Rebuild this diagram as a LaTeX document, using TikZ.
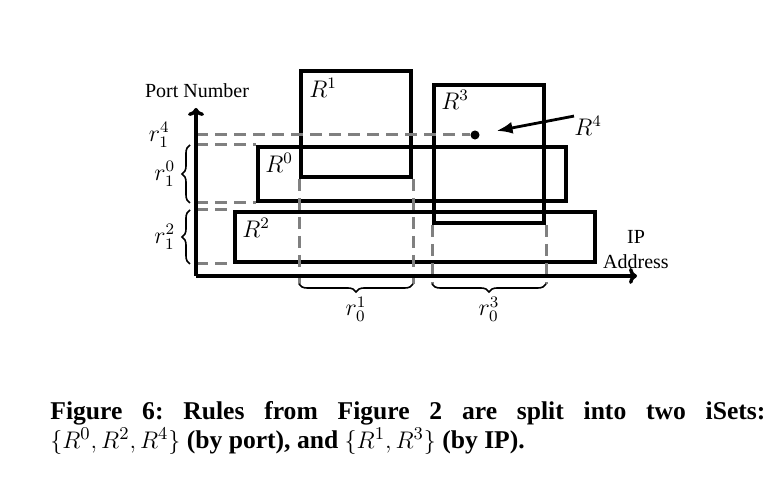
\documentclass[tikz,border=0pt]{standalone}
\usepackage{fontspec}
\setmainfont{Liberation Serif}
\usetikzlibrary{positioning,arrows.meta,decorations.pathreplacing}

\tikzset{
	rulebox/.style = {draw, line width=2pt, inner sep=0pt, anchor=south west},
	guide/.style = {draw=gray, line width=1.5pt, dash pattern=on 6pt off 3.5pt},
	axis/.style = {line width=1.7pt, -{To[length=4pt,width=8pt]}},
	pointer/.style = {line width=1.4pt, -{Latex[length=8pt,width=6pt]}},
	lbl/.style = {inner sep=0pt, font=\fontsize{11.5}{13}\selectfont},
	txt/.style = {inner sep=0pt, font=\fontsize{10}{12.5}\selectfont},
	rng/.style = {decorate, decoration={brace,amplitude=4pt}, line width=0.8pt},
}

\begin{document}
\begin{tikzpicture}[x=0.5pt, y=0.5pt]
		
		\useasboundingbox (0,0) rectangle (782,490);
		
		\coordinate (o) at (196,214);
		\coordinate (ytip) at (196,382);
		\coordinate (xtip) at (637,214);
		\coordinate (base) at (196,206);
		\coordinate (bx) at (190,214);
		
		\node[rulebox, minimum width=154pt, minimum height=27pt] (r0) at (256,287) {};
		\node[rulebox, minimum width=55pt, minimum height=53pt] (r1) at (299,311) {};
		\node[rulebox, minimum width=180pt, minimum height=25pt] (r2) at (233,226) {};
		\node[rulebox, minimum width=55pt, minimum height=69pt] (r3) at (432,265) {};
		\node[circle, fill, inner sep=1.6pt] (r4) at (475,355) {};
		
		\node[lbl, below right=4pt and 4.5pt of r0.north west] (r0lbl) {$R^0$};
		\node[lbl, below right=4.5pt and 5pt of r1.north west] (r1lbl) {$R^1$};
		\node[lbl, below right=4pt and 4.5pt of r2.north west] (r2lbl) {$R^2$};
		\node[lbl, below right=3.5pt and 4.5pt of r3.north west] (r3lbl) {$R^3$};
		\node[lbl, anchor=west] (r4lbl) at (574,364) {$R^4$};
		\draw[pointer, shorten >=8.5pt] (r4lbl.north west) -- (r4);
		
		\draw[guide] (o |- r4) -- (r4);
		\draw[guide] (o |- r0.north west) -- (r0.north west);
		\draw[guide] (o |- r0.south west) -- (r0.south west);
		\draw[guide] (o |- r2.north west) -- (r2.north west);
		\draw[guide] (o |- r2.south west) -- (r2.south west);
		
		\draw[guide] (r1.south west) -- (r1.south west |- base);
		\draw[guide] (r1.south east) -- (r1.south east |- base);
		\draw[guide] (r3.south west) -- (r3.south west |- base);
		\draw[guide] (r3.south east) -- (r3.south east |- base);
		
		\draw[axis] (o) -- (ytip);
		\draw[axis] (o) -- (xtip);
		\node[txt] (ylbl) at (197,399) {Port Number};
		\node[txt, align=center] (xlbl) at (636,240) {IP\\Address};
		
		\node[lbl, left=13pt of o |- r4] (r14) {$r_1^4$};
		\draw[rng] (bx |- r0.south west) -- (bx |- r0.north west)
			node[lbl, midway, left=7pt] (r10) {$r_1^0$};
		\draw[rng] (bx |- r2.south west) -- (bx |- r2.north west)
			node[lbl, midway, left=7pt] (r12) {$r_1^2$};
		\draw[rng] (r1.south east |- base) -- (r1.south west |- base)
			node[lbl, midway, below=6pt] (r01) {$r_0^1$};
		\draw[rng] (r3.south east |- base) -- (r3.south west |- base)
			node[lbl, midway, below=6pt] (r03) {$r_0^3$};
		
		\node[anchor=north west, inner sep=0pt, text width=357.5pt, align=justify,
			font=\fontsize{12.8}{14.5}\selectfont\bfseries\frenchspacing] (caption) at (50,89)
			{Figure 6: Rules from Figure 2 are split into two iSets:\linebreak
			$\{R^0, R^2, R^4\}$ (by port), and $\{R^1, R^3\}$ (by IP).};
		
	\end{tikzpicture}
\end{document}
